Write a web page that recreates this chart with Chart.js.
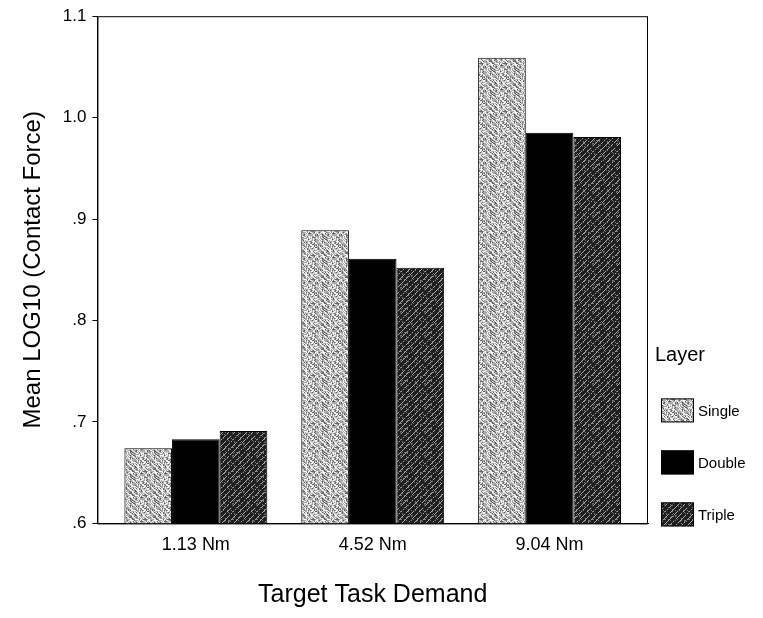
<!DOCTYPE html>
<html lang="en">
<head>
  <meta charset="UTF-8">
  <title>Mean LOG10 (Contact Force)</title>
  <script src="https://cdn.jsdelivr.net/npm/chart.js"></script>
  <style>
    html, body { margin: 0; padding: 0; background: #fff; }
    canvas { display: block; }
  </style>
</head>
<body>
  <canvas id="forceChart" width="763" height="618"></canvas>

  <script>
    // category labels and mean values per layer
    const demands = ['1.13 Nm', '4.52 Nm', '9.04 Nm'];
    const layers = ['Single', 'Double', 'Triple'];
    const singleMeans = [0.674, 0.889, 1.059];
    const doubleMeans = [0.683, 0.861, 0.985];
    const tripleMeans = [0.691, 0.852, 0.981];
    const yTicks = [0.6, 0.7, 0.8, 0.9, 1.0, 1.1];

    const FONT = '"Liberation Sans", Arial, sans-serif';

    // tiny repeatable "grain" so the fills look like the printed textures
    function grain(i, j) {
      let h = (i * 374761393 + j * 668265263) | 0;
      h = (h ^ (h >>> 13)) * 1274126177 | 0;
      return ((h ^ (h >>> 16)) >>> 0) % 100;
    }

    function makeFill(kind) {
      const size = 24;
      const c = document.createElement('canvas');
      c.width = size; c.height = size;
      const g = c.getContext('2d');
      const img = g.createImageData(size, size);
      for (let y = 0; y < size; y++) {
        for (let x = 0; x < size; x++) {
          const n = grain(x, y);
          let v;
          if (kind === 'single') {
            // light grey, white streaks running top-left to bottom-right
            const onLine = ((x - y + size) % 6) < 2;
            v = onLine ? 235 : 170;
            if (n < 28) v -= 70;
            else if (n > 78) v = 242;
          } else {
            // near black, grey streaks running bottom-left to top-right
            const onLine = ((x + y) % 6) < 1;
            v = onLine ? 170 : 30;
            if (!onLine && n > 88) v = 115;
            if (onLine && n < 25) v = 60;
          }
          const k = (y * size + x) * 4;
          img.data[k] = img.data[k + 1] = img.data[k + 2] = v;
          img.data[k + 3] = 255;
        }
      }
      g.putImageData(img, 0, 0);
      return g.createPattern(c, 'repeat');
    }

    const fills = [makeFill('single'), '#000000', makeFill('triple')];
    const series = [singleMeans, doubleMeans, tripleMeans];

    // closed frame around the plot
    const frame = {
      id: 'frame',
      afterDraw(chart) {
        const { ctx, chartArea: a } = chart;
        ctx.save();
        ctx.strokeStyle = '#000';
        ctx.lineWidth = 1;
        ctx.strokeRect(a.left + 0.5, a.top + 0.5, a.right - a.left - 1, a.bottom - a.top);
        ctx.restore();
      }
    };

    // legend on the right, stacked towards the bottom of the plot
    const layerLegend = {
      id: 'layerLegend',
      afterDraw(chart) {
        const { ctx, chartArea: a } = chart;
        const sets = chart.data.datasets;
        const x0 = a.right + 13;
        ctx.save();
        ctx.fillStyle = '#000';
        ctx.textBaseline = 'middle';
        ctx.textAlign = 'left';
        ctx.font = '20px ' + FONT;
        ctx.fillText('Layer', x0 - 6, a.bottom - 168);
        ctx.font = '15px ' + FONT;
        sets.forEach((ds, i) => {
          const cy = a.bottom - 9 - (sets.length - 1 - i) * 52;
          ctx.fillStyle = ds.backgroundColor;
          ctx.fillRect(x0, cy - 12, 33, 24);
          ctx.strokeStyle = '#000';
          ctx.strokeRect(x0 + 0.5, cy - 11.5, 32, 23);
          ctx.fillStyle = '#000';
          ctx.fillText(ds.label, x0 + 37, cy + 1);
        });
        ctx.restore();
      }
    };

    new Chart(document.getElementById('forceChart'), {
      type: 'bar',
      data: {
        labels: demands,
        datasets: layers.map((name, i) => ({
          label: name,
          data: series[i],
          backgroundColor: fills[i],
          borderColor: '#000',
          borderWidth: 1,
          categoryPercentage: 0.808,
          barPercentage: 1.0
        }))
      },
      options: {
        responsive: false,
        animation: false,
        layout: { padding: { left: 14, right: 115, top: 8, bottom: 8 } },
        plugins: {
          legend: { display: false },
          tooltip: { enabled: false }
        },
        scales: {
          x: {
            // groups sit a little closer together than the default category slots
            afterBuildTicks: (scale) => {
              scale._valueRange = 3.113;
              scale._startValue = -0.5565;
            },
            grid: { display: false, drawTicks: false },
            border: { color: '#000' },
            ticks: {
              color: '#000',
              padding: 11,
              font: { family: FONT, size: 18 }
            },
            title: {
              display: true,
              text: 'Target Task Demand',
              color: '#000',
              padding: { top: 13, bottom: 0 },
              font: { family: FONT, size: 25 }
            }
          },
          y: {
            min: 0.6,
            max: 1.1,
            afterBuildTicks: (scale) => {
              scale.ticks = yTicks.map(v => ({ value: v }));
            },
            grid: { display: true, drawOnChartArea: false, drawTicks: true, tickLength: 5, color: '#000' },
            border: { color: '#000' },
            ticks: {
              color: '#000',
              padding: 6,
              font: { family: FONT, size: 17 },
              callback: (v) => v >= 1 ? v.toFixed(1) : v.toFixed(1).replace(/^0/, '')
            },
            title: {
              display: true,
              text: 'Mean LOG10 (Contact Force)',
              color: '#000',
              padding: { top: 5, bottom: 9 },
              font: { family: FONT, size: 24 }
            }
          }
        }
      },
      plugins: [frame, layerLegend]
    });
  </script>
</body>
</html>
